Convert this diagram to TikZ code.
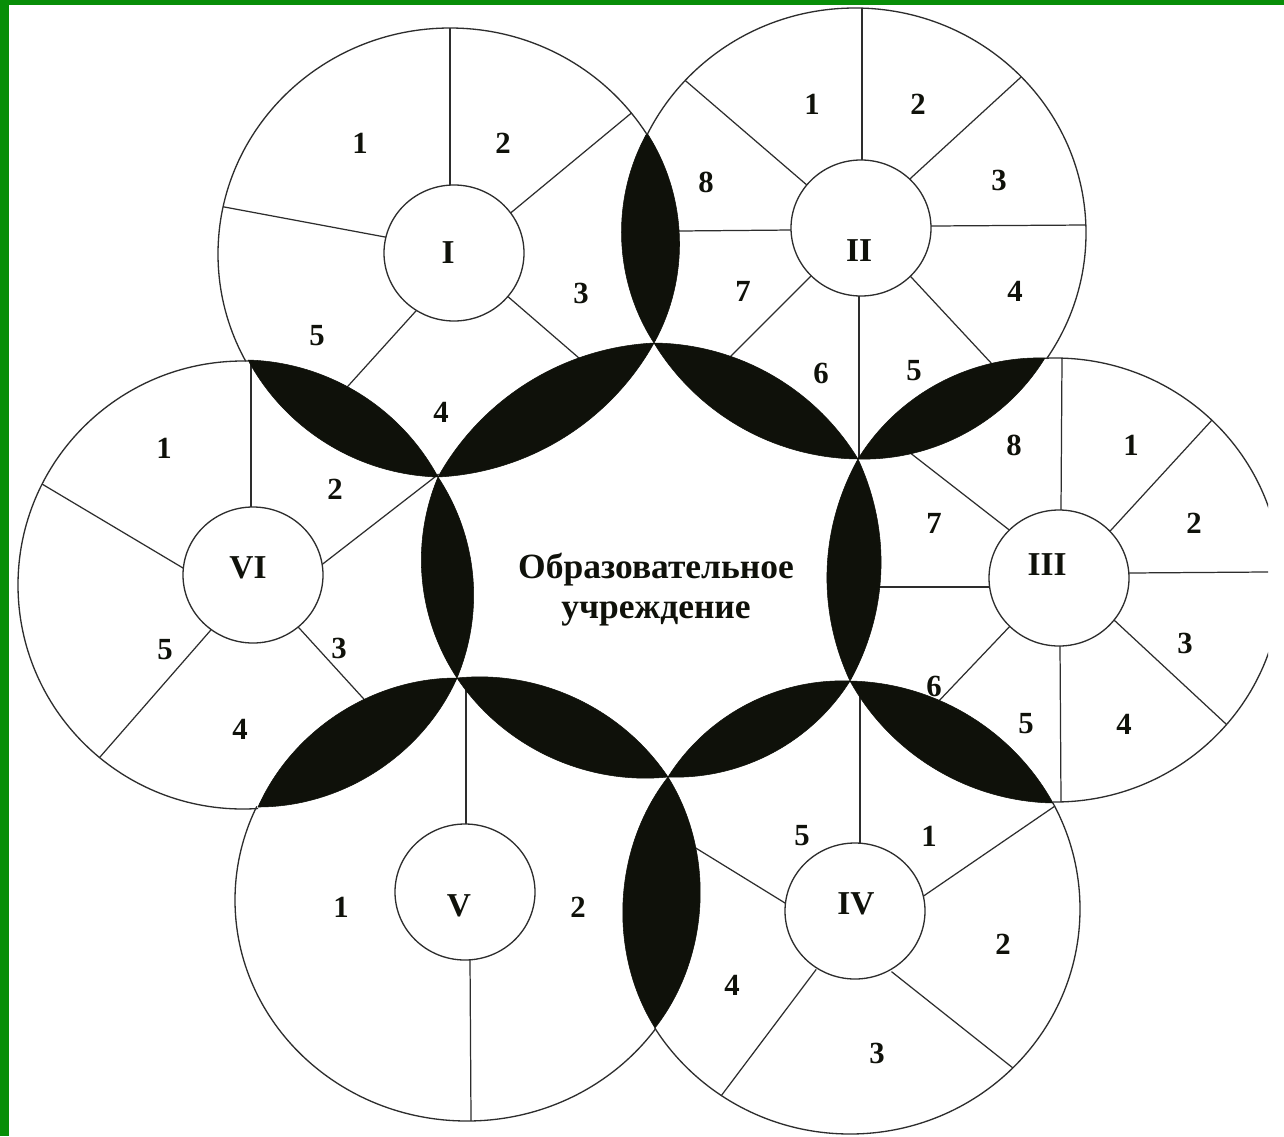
\documentclass[tikz,border=0pt]{standalone}
\usepackage{fontspec}
\setmainfont{Liberation Serif}
\usetikzlibrary{calc}
\definecolor{framegreen}{RGB}{8,142,8}
\definecolor{ink}{RGB}{15,17,10}
\definecolor{linec}{RGB}{45,45,45}
\begin{document}
\begin{tikzpicture}[x=0.02cm,y=-0.02cm,
  ring/.style={draw=linec,line width=0.75pt},
  hub/.style={draw=linec,line width=0.75pt,fill=white},
  spoke/.style={draw=linec,line width=0.7pt},
  lens/.style={fill=ink,draw=ink,line width=0.3pt,looseness=0.91},
  num/.style={font=\fontsize{17.5}{20}\selectfont\bfseries,text=ink,inner sep=0pt},
  roman/.style={font=\fontsize{19}{22}\selectfont\bfseries,text=ink,inner sep=0pt},
  title/.style={font=\fontsize{20.2}{22.8}\selectfont\bfseries,text=ink,inner sep=0pt,align=center}]
\useasboundingbox (0,0) rectangle (1284,1136);
\fill[white] (0,0) rectangle (1284,1136);
\fill[framegreen] (0,0) rectangle (1284,5);
\fill[framegreen] (0,0) rectangle (8.5,1136);

% ---------- lens tips ----------
\coordinate (O) at (657,574);
\coordinate (T12) at (647,133);  \coordinate (V12) at (654,343);
\coordinate (T23) at (1045,358); \coordinate (V23) at (858,459);
\coordinate (T34) at (1053,803); \coordinate (V34) at (850,681);
\coordinate (T45) at (655,1028); \coordinate (V45) at (668,777);
\coordinate (T56) at (258,807);  \coordinate (V56) at (457,678);
\coordinate (T61) at (248,360);  \coordinate (V61) at (438,477);

% ---------- spokes (clipped by their outer circle) ----------
\begin{scope}
  \clip (450,254) ellipse [x radius=232,y radius=226];
  \foreach \ax/\ay/\bx/\by in {450/185/450/28, 513/211/629/115, 385/237/219/206, 415/312/349/385, 513/301/572/352}
    \draw[spoke] ($(\ax,\ay)!-4pt!(\bx,\by)$) -- ($(\bx,\by)!-6pt!(\ax,\ay)$);
\end{scope}
\begin{scope}
  \clip (855,233) ellipse [x radius=231,y radius=225];
  \foreach \ax/\ay/\bx/\by in {862/161/862/8, 912/177/1020/78, 932/226/1086/225, 912/278/992/364, 859/296/859/454, 812/275/734/353, 792/230/679/231, 808/186/687/82}
    \draw[spoke] ($(\ax,\ay)!-4pt!(\bx,\by)$) -- ($(\bx,\by)!-6pt!(\ax,\ay)$);
\end{scope}
\begin{scope}
  \clip (0,0) rectangle (1268,1136);
  \clip (1055,580) ellipse [x radius=226,y radius=222];
  \foreach \ax/\ay/\bx/\by in {1061/510/1062/358, 1112/529/1212/420, 1008/529/909/452, 1129/573/1266/572, 989/587/880/587, 1114/620/1226/724, 1060/645/1061/802, 1012/624/936/704}
    \draw[spoke] ($(\ax,\ay)!-4pt!(\bx,\by)$) -- ($(\bx,\by)!-6pt!(\ax,\ay)$);
\end{scope}
\begin{scope}
  \clip (850,909) ellipse [x radius=230,y radius=225];
  \foreach \ax/\ay/\bx/\by in {860/844/860/690, 925/895/1055/806, 897/976/1018/1072, 812/975/721/1096, 785/903/699/850}
    \draw[spoke] ($(\ax,\ay)!-4pt!(\bx,\by)$) -- ($(\bx,\by)!-6pt!(\ax,\ay)$);
\end{scope}
\begin{scope}
  \clip (467,900) ellipse [x radius=232,y radius=221];
  \foreach \ax/\ay/\bx/\by in {466/821/466/680, 470/958/471/1120}
    \draw[spoke] ($(\ax,\ay)!-4pt!(\bx,\by)$) -- ($(\bx,\by)!-6pt!(\ax,\ay)$);
\end{scope}
\begin{scope}
  \clip (243,585) ellipse [x radius=225,y radius=224];
  \foreach \ax/\ay/\bx/\by in {251/507/251/360, 183/568/42/484, 324/563/431/480, 300/629/362/697, 210/631/100/757}
    \draw[spoke] ($(\ax,\ay)!-4pt!(\bx,\by)$) -- ($(\bx,\by)!-6pt!(\ax,\ay)$);
\end{scope}

% ---------- outer circles: only the free outer arc between the two outer tips ----------
\foreach \ta/\tb/\cx/\cy/\rx/\ry in {T61/T12/450/254/232/226, T12/T23/855/233/231/225, T23/T34/1055/580/226/222, T34/T45/850/909/230/225, T45/T56/467/900/232/221, T56/T61/243/585/225/224}{
  \begin{scope}
    \coordinate (mid) at ($(\ta)!0.5!(\tb)$);
    \coordinate (shift) at ($8*(mid)-8*(O)$);
    \clip ($(\ta)!-3!(\tb)$) -- ($(\ta)!4!(\tb)$) -- ($(\ta)!4!(\tb)+(shift)$) -- ($(\ta)!-3!(\tb)+(shift)$) -- cycle;
    \clip (0,0) rectangle (1268,1136);
    \draw[ring] (\cx,\cy) ellipse [x radius=\rx,y radius=\ry];
  \end{scope}
}

% ---------- hubs ----------
\draw[hub] (454,253) ellipse [x radius=70,y radius=68];
\draw[hub] (861,228) ellipse [x radius=70,y radius=68];
\draw[hub] (1059,578) ellipse [x radius=70,y radius=68];
\draw[hub] (855,911) ellipse [x radius=70,y radius=68];
\draw[hub] (465,892) ellipse [x radius=70,y radius=68];
\draw[hub] (253,575) ellipse [x radius=70,y radius=68];

% outer lenses
\path[lens] (T12) to[bend left=31] (V12) to[bend left=31] (T12);
\path[lens] (T23) to[bend left=30] (V23) to[bend left=30] (T23);
\path[lens] (T34) to[bend left=30] (V34) to[bend left=30] (T34);
\path[lens] (T45) to[bend left=35] (V45) to[bend left=35] (T45);
\path[lens] (T56) to[bend left=33] (V56) to[bend left=33] (T56);
\path[lens] (T61) to[bend left=30] (V61) to[bend left=30] (T61);
% central lenses
\path[lens] (V61) to[bend left=29] (V12) to[bend left=29] (V61);
\path[lens] (V12) to[bend left=29] (V23) to[bend left=29] (V12);
\path[lens] (V23) to[bend left=27] (V34) to[bend left=27] (V23);
\path[lens] (V34) to[bend left=30] (V45) to[bend left=30] (V34);
\path[lens] (V45) to[bend left=31] (V56) to[bend left=31] (V45);
\path[lens] (V56) to[bend left=28] (V61) to[bend left=28] (V56);

% ---------- labels ----------
\node[roman] (rI)   at (448,253)  {I};
\node[roman] (rII)  at (859,251)  {II};
\node[roman] (rIII) at (1047,565) {III};
\node[roman] (rIV)  at (856,904)  {IV};
\node[roman] (rV)   at (459,906)  {V};
\node[roman] (rVI)  at (248,568)  {VI};

\node[num] (a1) at (360,143) {1};
\node[num] (a2) at (503,143) {2};
\node[num] (a3) at (581,293) {3};
\node[num] (a4) at (441,412) {4};
\node[num] (a5) at (317,336) {5};

\node[num] (b1) at (812,104) {1};
\node[num] (b2) at (918,104) {2};
\node[num] (b3) at (999,180) {3};
\node[num] (b4) at (1015,291) {4};
\node[num] (b5) at (914,371) {5};
\node[num] (b6) at (821,373) {6};
\node[num] (b7) at (743,291) {7};
\node[num] (b8) at (706,182) {8};

\node[num] (c1) at (1131,445) {1};
\node[num] (c2) at (1194,523) {2};
\node[num] (c3) at (1185,643) {3};
\node[num] (c4) at (1124,724) {4};
\node[num] (c5) at (1026,724) {5};
\node[num] (c6) at (934,686)  {6};
\node[num] (c7) at (934,523)  {7};
\node[num] (c8) at (1014,445) {8};

\node[num] (d1) at (929,836)  {1};
\node[num] (d2) at (1003,944) {2};
\node[num] (d3) at (877,1053) {3};
\node[num] (d4) at (732,985)  {4};
\node[num] (d5) at (802,836)  {5};

\node[num] (e1) at (341,907) {1};
\node[num] (e2) at (578,907) {2};

\node[num] (f1) at (164,448) {1};
\node[num] (f2) at (335,489) {2};
\node[num] (f3) at (339,648) {3};
\node[num] (f4) at (240,729) {4};
\node[num] (f5) at (165,650) {5};

\node[title] (org) at (656,589.5) {Образовательное\\учреждение};
\end{tikzpicture}
\end{document}
